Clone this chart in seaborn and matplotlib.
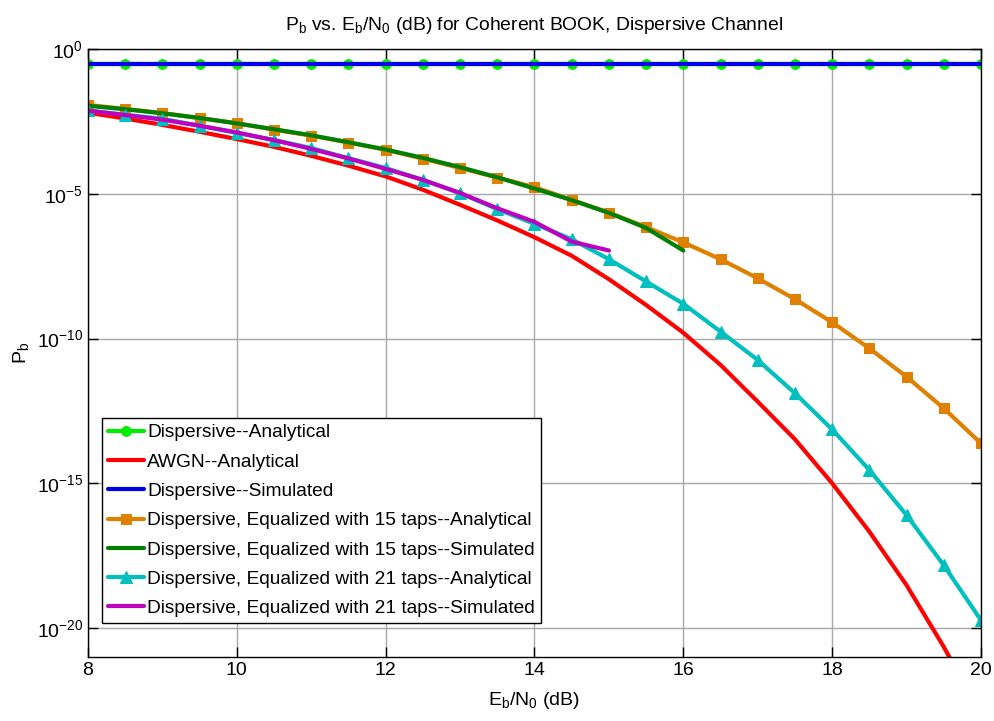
import numpy as np
import matplotlib
matplotlib.use('Agg')
import matplotlib.pyplot as plt
import matplotlib.ticker as mticker
import seaborn as sns

# Eb/N0 grid (dB)
ebn0 = [8, 8.5, 9, 9.5, 10, 10.5, 11, 11.5, 12, 12.5, 13, 13.5, 14, 14.5,
        15, 15.5, 16, 16.5, 17, 17.5, 18, 18.5, 19, 19.5, 20]

# values, as log10(Pb)
disp_analytical = [-0.51] * 25
disp_simulated = [-0.51] * 25
awgn_analytical = [-2.2, -2.4, -2.62, -2.86, -3.11, -3.38, -3.69, -4.03, -4.40,
                   -4.86, -5.38, -5.92, -6.50, -7.14, -7.95, -8.84, -9.80,
                   -10.91, -12.18, -13.48, -15.0, -16.67, -18.52, -20.65, -23.0]
eq15_analytical = [-1.93, -2.07, -2.21, -2.39, -2.56, -2.79, -2.99, -3.23, -3.48,
                   -3.79, -4.11, -4.44, -4.77, -5.21, -5.65, -6.15, -6.68,
                   -7.26, -7.92, -8.64, -9.44, -10.34, -11.32, -12.41, -13.62]
eq15_simulated = [-1.96, -2.08, -2.22, -2.38, -2.57, -2.77, -2.98, -3.22, -3.47,
                  -3.76, -4.08, -4.43, -4.82, -5.22, -5.66, -6.18, -6.96]
eq21_analytical = [-2.12, -2.27, -2.41, -2.65, -2.90, -3.14, -3.42, -3.77, -4.11,
                   -4.52, -4.98, -5.53, -6.04, -6.57, -7.26, -8.03, -8.80,
                   -9.76, -10.74, -11.89, -13.14, -14.54, -16.10, -17.83, -19.73]
eq21_simulated = [-2.13, -2.28, -2.44, -2.65, -2.88, -3.15, -3.45, -3.78, -4.14,
                  -4.52, -4.97, -5.50, -5.97, -6.65, -6.96]

sns.set_theme(style='white')
plt.rcParams['font.family'] = ['Liberation Sans', 'DejaVu Sans']
plt.rcParams['mathtext.fontset'] = 'custom'
plt.rcParams['mathtext.rm'] = 'Liberation Sans'
plt.rcParams['mathtext.it'] = 'Liberation Sans'
plt.rcParams['text.color'] = 'black'
plt.rcParams['axes.labelcolor'] = 'black'

fig = plt.figure(figsize=(9.95, 7.21), dpi=100)
ax = fig.add_axes([0.0884, 0.0888, 0.8975, 0.8432])

def draw(xs, logs, color, label, marker=None, ms=7, z=2):
    sns.lineplot(x=xs[:len(logs)], y=10.0 ** np.array(logs), ax=ax, color=color,
                 label=label, marker=marker, markersize=ms, linewidth=3,
                 markeredgecolor=color, zorder=z)

draw(ebn0, disp_analytical, '#00ee00', 'Dispersive--Analytical', marker='o', ms=7)
draw(ebn0, awgn_analytical, '#ff0000', 'AWGN--Analytical')
draw(ebn0, disp_simulated, '#0000ee', 'Dispersive--Simulated')
draw(ebn0, eq15_analytical, '#e08000', 'Dispersive, Equalized with 15 taps--Analytical', marker='s', ms=7)
draw(ebn0, eq15_simulated, '#008000', 'Dispersive, Equalized with 15 taps--Simulated')
draw(ebn0, eq21_analytical, '#00bfbf', 'Dispersive, Equalized with 21 taps--Analytical', marker='^', ms=8)
draw(ebn0, eq21_simulated, '#bf00bf', 'Dispersive, Equalized with 21 taps--Simulated')

ax.set_yscale('log')
ax.set_xlim(8, 20)
ax.set_ylim(1e-21, 1)
ax.set_xticks([8, 10, 12, 14, 16, 18, 20])
ax.set_yticks([1e-20, 1e-15, 1e-10, 1e-5, 1])
ax.yaxis.set_minor_locator(mticker.NullLocator())
ax.grid(True, color='#a8a8a8', linewidth=1, linestyle='-')
ax.tick_params(direction='in', length=7, width=1, labelsize=14,
               top=True, right=True, left=True, bottom=True, colors='black')
for s in ax.spines.values():
    s.set_color('black')
    s.set_linewidth(1)

ax.set_title(r'P$_\mathregular{b}$ vs. E$_\mathregular{b}$/N$_\mathregular{0}$ (dB) for Coherent BOOK, Dispersive Channel',
             fontsize=13.9, pad=14, color='black')
ax.set_xlabel(r'E$_\mathregular{b}$/N$_\mathregular{0}$ (dB)', fontsize=14, labelpad=8)
ax.set_ylabel(r'P$_\mathregular{b}$', fontsize=14, labelpad=4)

leg = ax.legend(loc='lower left', bbox_to_anchor=(0.0157, 0.056), borderaxespad=0,
                fontsize=13.8, frameon=True, fancybox=False, edgecolor='black',
                framealpha=1, handlelength=1.9, handletextpad=0.15,
                labelspacing=0.62, borderpad=0.3, markerscale=1)
leg.get_frame().set_linewidth(1)
for t in leg.get_texts():
    t.set_color('black')

fig.savefig('out.png', dpi=100)
